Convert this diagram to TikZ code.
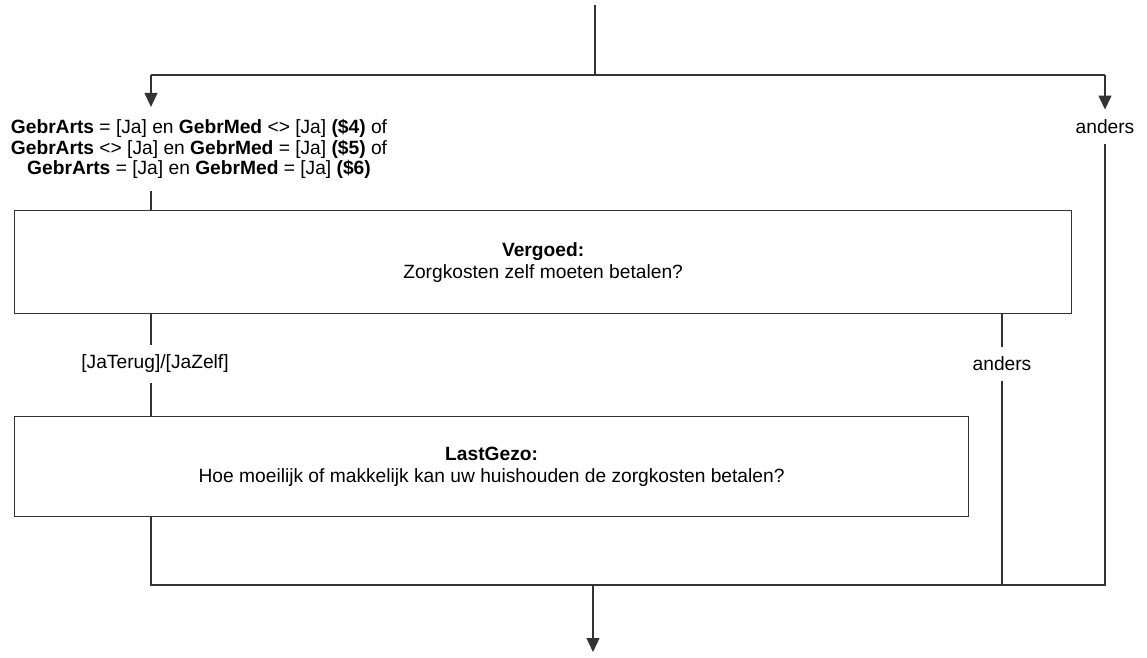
\documentclass[tikz,border=0pt]{standalone}
\usepackage{fontspec}
\setmainfont{Liberation Sans}
\usetikzlibrary{arrows.meta,positioning}
\definecolor{lineC}{HTML}{333333}
\newcommand\fsz{\fontsize{9.6}{10.3}\selectfont}
\tikzset{
  qbox/.style={draw=lineC, line width=0.6pt, align=center, anchor=north west,
               inner sep=0pt, font=\fontsize{9.6}{11}\selectfont},
  cond/.style={align=center, inner xsep=0pt, inner ysep=6pt, font=\fsz},
  lab/.style={inner xsep=0pt, inner ysep=5pt, font=\fsz},
  ln/.style={draw=lineC, line width=0.6pt},
  arr/.style={ln, -{Triangle[length=7pt,width=6.5pt]}},
}
\begin{document}
\begin{tikzpicture}[x=0.5pt,y=-0.5pt]
\useasboundingbox (0,0) rectangle (1147,658);
% split and merge points
\coordinate (in) at (595,5);
\coordinate (split) at (595,75);
\coordinate (sl) at (151,75);
\coordinate (sr) at (1105,75);
\coordinate (ml) at (151,585);
\coordinate (mr) at (1105,585);
\coordinate (mm) at (593,585);
\coordinate (out) at (593,652);
% conditions
\node[cond] (cnd) at (199,149) {\textbf{GebrArts} = [Ja] en \textbf{GebrMed} <> [Ja] \textbf{(\$4)} of\\
  \textbf{GebrArts} <> [Ja] en \textbf{GebrMed} = [Ja] \textbf{(\$5)} of\\
  \textbf{GebrArts} = [Ja] en \textbf{GebrMed} = [Ja] \textbf{(\$6)}};
\node[lab] (and1) at (1105,127) {anders};
% questions
\node[qbox, minimum width=528.5pt, minimum height=51.5pt] (vergoed) at (14,210)
  {\textbf{Vergoed:}\\Zorgkosten zelf moeten betalen?};
\node[lab] (ja) at (155,364) {[JaTerug]/[JaZelf]};
\node[lab] (and2) at (1002,364) {anders};
\node[qbox, minimum width=477pt, minimum height=50pt] (last) at (14,416)
  {\textbf{LastGezo:}\\Hoe moeilijk of makkelijk kan uw huishouden de zorgkosten betalen?};
% connectors
\draw[ln] (in) -- (split);
\draw[ln] (sl) -- (sr);
\draw[arr] (sl) -- (sl |- cnd.north);
\draw[arr] (sr) -- (and1.north);
\draw[ln] (sl |- cnd.south) -- (sl |- vergoed.north);
\draw[ln] (sl |- vergoed.south) -- (sl |- ja.north);
\draw[ln] (sl |- ja.south) -- (sl |- last.north);
\draw[ln] (sl |- last.south) -- (ml) -- (mr) -- (and1.south);
\draw[ln] (vergoed.south -| and2) -- (and2.north);
\draw[ln] (and2.south) -- (and2 |- ml);
\draw[arr] (mm) -- (out);
\end{tikzpicture}
\end{document}
